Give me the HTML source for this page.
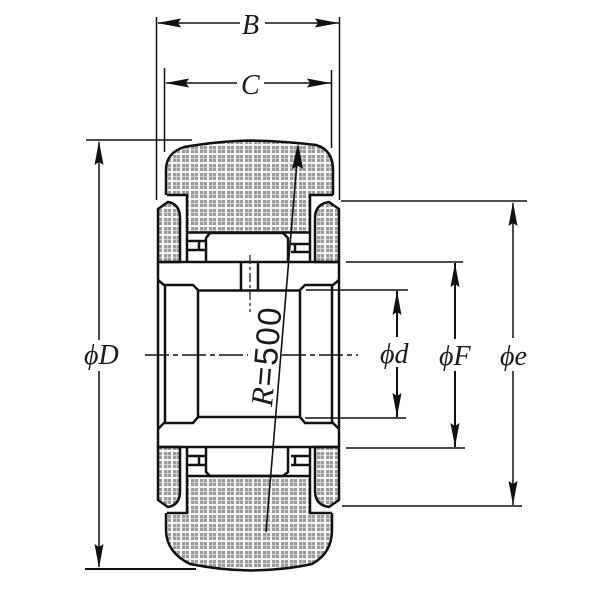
<!DOCTYPE html>
<html>
<head>
<meta charset="utf-8">
<style>
html,body{margin:0;padding:0;background:#fff;width:600px;height:600px;overflow:hidden}
svg{display:block}
text{fill:#1a1a1a}
.s{font-family:"Liberation Serif",serif;font-style:italic;font-size:28px}
</style>
</head>
<body>
<svg width="600" height="600" viewBox="0 0 600 600" xmlns="http://www.w3.org/2000/svg">
<defs>
<pattern id="h" width="9" height="9" patternUnits="userSpaceOnUse" x="2" y="2">
<rect width="9" height="9" fill="#f6f6f6"/>
<rect x="0" y="0" width="7" height="7" fill="#9c9c9c"/>
<rect x="0" y="3" width="7" height="1" fill="#d0d0d0"/>
<rect x="3" y="0" width="1" height="7" fill="#d0d0d0"/>
</pattern>
<g id="ah"><path d="M0 0 L-4.500 24 L0 21 L4.500 24 Z" fill="#111"/></g>
</defs>
<rect width="600" height="600" fill="#fff"/>

<!-- tire -->
<path d="M167 195 V170 Q167 153 184 148 Q220 141 250 141 Q285 141 316 146 Q333 150 333 170 V195 H310 V232 H187 V195 Z" fill="url(#h)" stroke="none"/>
<path d="M167 513 V530 Q167 552 190 563 Q220 570 250 570 Q285 570 312 563 Q332 553 332 530 V513 H310 V476 H187 V513 Z" fill="url(#h)" stroke="none"/>
<path d="M166 195 V170 Q166 153 184 147 Q220 141 250 140.500 Q285 141 316 145 Q333 150 333 170 V195" fill="none" stroke="#111" stroke-width="2.500"/>
<path d="M166 513 V530 Q166 552 190 564 Q220 570 250 570.500 Q285 570 312 564 Q332 553 332 530 V513" fill="none" stroke="#111" stroke-width="2.500"/>
<path d="M167 195 H187 V262 M187 232.500 H310 M310 262 V195 H333" fill="none" stroke="#111" stroke-width="2.500"/>
<path d="M167 513 H187 V447 M187 476 H310 M310 447 V513 H332" fill="none" stroke="#111" stroke-width="2.500"/>

<!-- side pads -->
<path d="M158 262 V209 L168 202 Q180 204 180 218 V262 Z" fill="url(#h)" stroke="#111" stroke-width="2.500"/>
<path d="M339 262 V209 L329 202 Q315 204 315 218 V262 Z" fill="url(#h)" stroke="#111" stroke-width="2.500"/>
<path d="M158 447 V500 L168 507 Q180 505 180 491 V447 Z" fill="url(#h)" stroke="#111" stroke-width="2.500"/>
<path d="M339 447 V500 L329 507 Q315 505 315 491 V447 Z" fill="url(#h)" stroke="#111" stroke-width="2.500"/>

<!-- cages and rollers -->
<g fill="none" stroke="#111" stroke-width="2.500">
<path d="M188 241 H205 M188 250 H205 M199 241 V250"/>
<path d="M291 244 H310 M291 252 H310 M295 244 V252"/>
<path d="M188 456 H205 M188 465 H205 M199 456 V465"/>
<path d="M291 456 H310 M291 465 H310 M295 456 V465"/>
<path d="M206 262 V238 L210 233 H283 L288 238 V262"/>
<path d="M206 447 V472 L210 476 H283 L288 472 V447"/>
</g>

<!-- inner ring -->
<g fill="none" stroke="#111" stroke-width="2.500">
<path d="M158 262 H339"/>
<path d="M158 447 H339"/>
<path d="M158 262 V447 M339 262 V447"/>
<path d="M158 280 L164 285 H193 L198 290 V417 L193 423 H164 L158 429"/>
<path d="M339 280 L333 285 H305 L300 290 V417 L305 423 H333 L339 429"/>
<path d="M165 285 V423 M332 285 V423"/>
<path d="M198 290.500 H300 M198 417 H300"/>
<path d="M241 262 V290 M258 262 V290"/>
</g>
<path d="M250 255 V312" stroke="#222" stroke-width="1.300" stroke-dasharray="9 3 3 3" fill="none"/>

<!-- centre line -->
<path d="M145 355 H248 M282 355 H358" stroke="#111" stroke-width="1.500" stroke-dasharray="24 4 5 4" fill="none"/>

<!-- R line -->
<path d="M298 150 L266 532" stroke="#111" stroke-width="1.600" fill="none"/>
<path d="M298 143 L292 169 L298 166 L303 169 Z" fill="#111"/>
<text transform="translate(272,407) rotate(-85.300)" font-family="Liberation Serif, serif" font-style="italic" font-size="31">R</text>
<text transform="translate(275,387) rotate(-85.300)" font-family="Liberation Sans, sans-serif" font-size="33" letter-spacing="1.500">=500</text>

<!-- top dims -->
<g stroke="#111" stroke-width="1.500" fill="none">
<path d="M156.500 17 V200 M339.500 17 V200"/>
<path d="M164.500 68 V152 M331.500 70 V148"/>
<path d="M158 23 H240 M265 23 H339"/>
<path d="M166 83 H237 M264 83 H331"/>
</g>
<use href="#ah" transform="translate(157,23) rotate(-90)"/>
<use href="#ah" transform="translate(339,23) rotate(90)"/>
<use href="#ah" transform="translate(165,83) rotate(-90)"/>
<use href="#ah" transform="translate(331,83) rotate(90)"/>
<text class="s" x="242" y="34">B</text>
<text class="s" x="241" y="94">C</text>

<!-- left dim -->
<g stroke="#111" stroke-width="1.500" fill="none">
<path d="M86 140 H192"/>
<path d="M85 569 H196" stroke-width="2"/>
<path d="M99 142 V340 M99 371 V567"/>
</g>
<use href="#ah" transform="translate(99,141)"/>
<use href="#ah" transform="translate(99,568) rotate(180)"/>
<text class="s" x="84" y="364">ϕD</text>

<!-- right dims -->
<g stroke="#111" stroke-width="1.500" fill="none">
<path d="M341 201 H527"/>
<path d="M342 506 H522"/>
<path d="M346 262 H463"/>
<path d="M346 448 H465"/>
<path d="M306 290 H408"/>
<path d="M305 418 H406"/>
<path d="M513 203 V338 M513 371 V505"/>
<path d="M455 263 V339 M455 371 V447" stroke-width="2"/>
<path d="M397 291 V337 M397 367 V417" stroke-width="2"/>
</g>
<use href="#ah" transform="translate(513,202)"/>
<use href="#ah" transform="translate(513,505) rotate(180)"/>
<use href="#ah" transform="translate(455,263)"/>
<use href="#ah" transform="translate(455,447) rotate(180)"/>
<use href="#ah" transform="translate(397,291)"/>
<use href="#ah" transform="translate(397,417) rotate(180)"/>
<text class="s" x="380" y="363">ϕd</text>
<text class="s" x="439" y="365">ϕF</text>
<text class="s" x="500" y="365">ϕe</text>
</svg>
</body>
</html>
